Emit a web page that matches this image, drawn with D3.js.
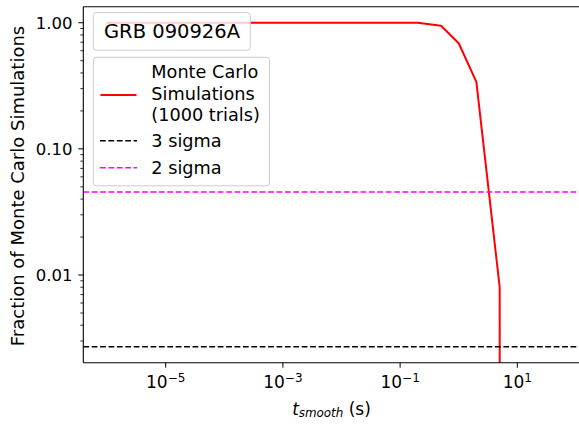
<!DOCTYPE html>
<html>
<head>
<meta charset="utf-8">
<script src="https://cdn.jsdelivr.net/npm/d3@7"></script>
<style>
  body { margin: 0; background: #fff; }
  svg { display: block; font-family: "DejaVu Sans", sans-serif; }
</style>
</head>
<body>
<div id="chart"></div>
<script>
// smoothing timescale (s) and fraction of simulations above threshold
var tSmooth = [1e-6, 1e-5, 1e-4, 1e-3, 1e-2, 0.1, 0.2, 0.5, 1, 2, 5, 10, 20, 50];
var fraction = [1, 1, 1, 1, 1, 1, 1, 0.947, 0.687, 0.34, 0.008, 0, 0, 0];
// significance levels
var sigmaNames = ['3 sigma', '2 sigma'];
var sigmaLevels = [0.0027, 0.0455];
var sigmaColors = ['#000000', '#ff00ff'];
// ticks
var yTicks = [0.01, 0.1, 1];
var yTickLabels = ['0.01', '0.10', '1.00'];
var xTicks = [1e-5, 1e-3, 1e-1, 1e1];
var xTickExp = ['\u22125', '\u22123', '\u22121', '1'];
var legendLines = ['Monte Carlo', 'Simulations', '(1000 trials)'];
var grbName = 'GRB 090926A';

(function drawChart(){
    'use strict';
    var width = 579, height = 424;
    var plot = {left: 83.3, right: 581.2, top: 6.7, bottom: 362.7};

    var svg = d3.select('#chart').append('svg')
        .attr('width', width)
        .attr('height', height);

    var x = d3.scaleLog()
        .domain([Math.pow(10, -6.406), Math.pow(10, 2.09)])
        .range([plot.left, plot.right]);
    var y = d3.scaleLog()
        .domain([Math.pow(10, -2.695), Math.pow(10, 0.127)])
        .range([plot.bottom, plot.top]);

    // zero values go far below the axis, like matplotlib clipping
    function yPos(v){
        return v > 0 ? y(v) : y(1e-300);
    }

    svg.append('clipPath').attr('id', 'plotClip')
        .append('rect')
        .attr('x', plot.left).attr('y', plot.top)
        .attr('width', plot.right - plot.left)
        .attr('height', plot.bottom - plot.top);

    var inner = svg.append('g').attr('clip-path', 'url(#plotClip)');

    var line = d3.line()
        .x(function(d){ return x(d[0]); })
        .y(function(d){ return yPos(d[1]); });

    inner.append('path')
        .datum(d3.zip(tSmooth, fraction))
        .attr('d', line)
        .attr('fill', 'none')
        .attr('stroke', '#ff0000')
        .attr('stroke-width', 2)
        .attr('stroke-linejoin', 'round')
        .attr('stroke-linecap', 'square');

    inner.selectAll('line.sigma')
        .data(sigmaLevels)
        .enter().append('line')
        .attr('class', 'sigma')
        .attr('x1', plot.left).attr('x2', plot.right)
        .attr('y1', function(d){ return y(d); })
        .attr('y2', function(d){ return y(d); })
        .attr('stroke', function(d, i){ return sigmaColors[i]; })
        .attr('stroke-width', 1.6)
        .attr('stroke-dasharray', '5.8,2.6');

    // spines (right one is outside the picture)
    var spine = svg.append('g').attr('stroke', '#000').attr('stroke-width', 1.1);
    spine.append('line').attr('x1', plot.left).attr('x2', plot.left)
        .attr('y1', plot.top).attr('y2', plot.bottom);
    spine.append('line').attr('x1', plot.left).attr('x2', plot.right)
        .attr('y1', plot.top).attr('y2', plot.top);
    spine.append('line').attr('x1', plot.left).attr('x2', plot.right)
        .attr('y1', plot.bottom).attr('y2', plot.bottom);

    // y axis ticks
    var yMinor = [];
    [-3, -2, -1].forEach(function(e){
        for (var k = 2; k <= 9; k++){
            var v = k * Math.pow(10, e);
            if (v > y.domain()[0] && v < y.domain()[1]) yMinor.push(v);
        }
    });
    svg.selectAll('line.yminor').data(yMinor).enter().append('line')
        .attr('class', 'yminor')
        .attr('x1', plot.left - 3).attr('x2', plot.left)
        .attr('y1', function(d){ return y(d); })
        .attr('y2', function(d){ return y(d); })
        .attr('stroke', '#000').attr('stroke-width', 0.8);
    svg.selectAll('line.ymajor').data(yTicks).enter().append('line')
        .attr('class', 'ymajor')
        .attr('x1', plot.left - 5).attr('x2', plot.left)
        .attr('y1', function(d){ return y(d); })
        .attr('y2', function(d){ return y(d); })
        .attr('stroke', '#000').attr('stroke-width', 1);
    svg.selectAll('text.ylab').data(yTicks).enter().append('text')
        .attr('class', 'ylab')
        .attr('x', 72.5)
        .attr('y', function(d){ return y(d) + 6.3; })
        .attr('text-anchor', 'end')
        .attr('font-size', 16.5)
        .attr('fill', '#000')
        .text(function(d, i){ return yTickLabels[i]; });

    // x axis ticks
    svg.selectAll('line.xmajor').data(xTicks).enter().append('line')
        .attr('class', 'xmajor')
        .attr('x1', function(d){ return x(d); })
        .attr('x2', function(d){ return x(d); })
        .attr('y1', plot.bottom).attr('y2', plot.bottom + 5)
        .attr('stroke', '#000').attr('stroke-width', 1);
    var xLab = svg.selectAll('text.xlab').data(xTicks).enter().append('text')
        .attr('class', 'xlab')
        .attr('x', function(d){ return x(d); })
        .attr('y', 388.3)
        .attr('text-anchor', 'middle')
        .attr('fill', '#000');
    xLab.append('tspan').attr('font-size', 17).text('10');
    xLab.append('tspan').attr('font-size', 12).attr('dy', -6)
        .text(function(d, i){ return xTickExp[i]; });

    // axis labels
    svg.append('text')
        .attr('transform', 'translate(24,186) rotate(-90)')
        .attr('text-anchor', 'middle')
        .attr('font-size', 18)
        .attr('fill', '#000')
        .text('Fraction of Monte Carlo Simulations');

    var xTitle = svg.append('text')
        .attr('x', 331.5).attr('y', 415)
        .attr('text-anchor', 'middle')
        .attr('fill', '#000');
    xTitle.append('tspan').attr('font-size', 17).attr('font-style', 'italic').text('t');
    xTitle.append('tspan').attr('font-size', 11.9).attr('font-style', 'italic')
        .attr('dy', 2.4).text('smooth');
    xTitle.append('tspan').attr('font-size', 17).attr('dy', -2.4).text('\u00a0(s)');

    // GRB name box
    svg.append('rect')
        .attr('x', 93.3).attr('y', 12.5)
        .attr('width', 157).attr('height', 37.7)
        .attr('rx', 3).attr('ry', 3)
        .attr('fill', '#fff').attr('fill-opacity', 0.8)
        .attr('stroke', '#cccccc').attr('stroke-width', 1);
    svg.append('text')
        .attr('x', 104).attr('y', 38.3)
        .attr('font-size', 19.5)
        .attr('fill', '#000')
        .text(grbName);

    // legend
    var legend = svg.append('g');
    legend.append('rect')
        .attr('x', 93.3).attr('y', 57.3)
        .attr('width', 176.2).attr('height', 128.5)
        .attr('rx', 3).attr('ry', 3)
        .attr('fill', '#fff').attr('fill-opacity', 0.8)
        .attr('stroke', '#cccccc').attr('stroke-width', 1);
    legend.append('line')
        .attr('x1', 100.5).attr('x2', 136.5)
        .attr('y1', 95).attr('y2', 95)
        .attr('stroke', '#ff0000').attr('stroke-width', 2);
    legend.selectAll('text.mc').data(legendLines).enter().append('text')
        .attr('class', 'mc')
        .attr('x', 151.3)
        .attr('y', function(d, i){ return 78.3 + i * 21.35; })
        .attr('font-size', 17.7)
        .attr('fill', '#000')
        .text(function(d){ return d; });
    var sigmaRowY = [140.7, 167.7];
    legend.selectAll('line.sig').data(sigmaNames).enter().append('line')
        .attr('class', 'sig')
        .attr('x1', 100).attr('x2', 137)
        .attr('y1', function(d, i){ return sigmaRowY[i]; })
        .attr('y2', function(d, i){ return sigmaRowY[i]; })
        .attr('stroke', function(d, i){ return sigmaColors[i]; })
        .attr('stroke-width', 1.6)
        .attr('stroke-dasharray', '5.8,2.6');
    legend.selectAll('text.sig').data(sigmaNames).enter().append('text')
        .attr('class', 'sig')
        .attr('x', 151.3)
        .attr('y', function(d, i){ return sigmaRowY[i] + 6.6; })
        .attr('font-size', 17.7)
        .attr('fill', '#000')
        .text(function(d){ return d; });
})();
</script>
</body>
</html>
